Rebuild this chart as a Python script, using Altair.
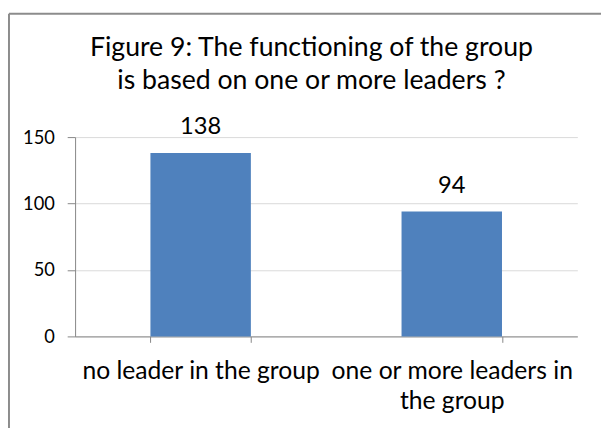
import altair as alt
import pandas as pd

title_lines = ["Figure 9: The functioning of the group", "is based on one or more leaders ?"]
categories = ["no leader in the group", "one or more leaders in\nthe group"]
counts = [138, 94]
y_ticks = [0, 50, 100, 150]

df = pd.DataFrame({"category": categories, "count": counts})

FONT = "Lato"
BLUE = "#4F81BD"
AXIS_GRAY = "#868686"

x_scale = alt.Scale(paddingInner=0.6, paddingOuter=0.3)
y_scale = alt.Scale(domain=[0, 150], nice=False)

x_enc = alt.X(
    "category:N",
    sort=categories,
    title=None,
    scale=x_scale,
    axis=alt.Axis(
        labelAngle=0,
        labelExpr="split(datum.label, '\\n')",
        labelFont=FONT,
        labelFontSize=25,
        labelColor="#000000",
        labelLineHeight=30,
        labelPadding=17,
        labelBaseline="top",
        tickBand="extent",
        tickColor=AXIS_GRAY,
        tickSize=6,
        domainColor=AXIS_GRAY,
        grid=False,
        labelLimit=400,
    ),
)
y_enc = alt.Y(
    "count:Q",
    title=None,
    scale=y_scale,
    axis=alt.Axis(
        values=y_ticks,
        labelFont=FONT,
        labelFontSize=18.5,
        labelColor="#000000",
        labelPadding=13,
        tickColor=AXIS_GRAY,
        tickSize=8,
        domainColor=AXIS_GRAY,
        gridColor="#D9D9D9",
        gridWidth=1,
    ),
)

base = alt.Chart(df)
bars = base.mark_bar(color=BLUE).encode(x=x_enc, y=y_enc)
labels = base.mark_text(
    font=FONT, fontSize=24, color="#000000", baseline="alphabetic", dy=-19
).encode(
    x=alt.X("category:N", sort=categories),
    y=alt.Y("count:Q"),
    text="count:Q",
)

frame_df = alt.Data(values=[{}])
left_line = alt.Chart(frame_df).mark_rule(color="#8C8C8C", strokeWidth=2).encode(
    x=alt.value(-67), y=alt.value(-125), y2=alt.value(400)
)
top_line = alt.Chart(frame_df).mark_rule(color="#8C8C8C", strokeWidth=2).encode(
    x=alt.value(-67), x2=alt.value(700), y=alt.value(-125)
)

chart = (
    alt.layer(bars, labels, left_line, top_line)
    .properties(
        width=509,
        height=202,
        background="white",
        autosize=alt.AutoSizeParams(type="none"),
        padding={"left": 68, "top": 128, "right": 24, "bottom": 90},
        title=alt.TitleParams(
            text=title_lines,
            font=FONT,
            fontSize=27,
            fontWeight="normal",
            color="#000000",
            lineHeight=33,
            anchor="middle",
            frame="group",
            baseline="bottom",
            dx=-15,
            dy=110,
            offset=0,
        ),
    )
    .configure_view(stroke="transparent", strokeWidth=0)
)

chart.save("out.html", embed_options={"renderer": "svg", "actions": False})
